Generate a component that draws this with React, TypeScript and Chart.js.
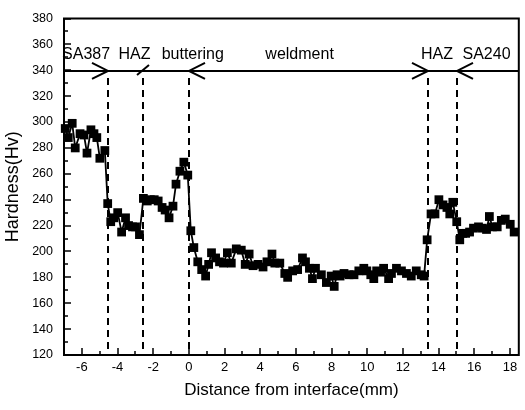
import React, { useEffect, useRef } from "react";
import { Chart, registerables } from "chart.js";

Chart.register(...registerables);

// ---- data ----
const distance = [
  -6.93, -6.76, -6.54, -6.37, -6.1, -5.88, -5.71, -5.49, -5.32, -5.16, -4.99, -4.71,
  -4.55, -4.38, -4.21, -3.99, -3.77, -3.55, -3.38, -3.16, -2.99, -2.77, -2.55, -2.33,
  -2.16, -1.94, -1.72, -1.5, -1.33, -1.11, -0.89, -0.72, -0.5, -0.28, -0.06, 0.11, 0.28,
  0.5, 0.72, 0.94, 1.11, 1.27, 1.5, 1.72, 1.94, 2.16, 2.38, 2.66, 2.94, 3.16, 3.38, 3.6,
  3.88, 4.16, 4.38, 4.66, 4.82, 5.1, 5.38, 5.54, 5.82, 6.1, 6.37, 6.54, 6.76, 6.93, 7.1,
  7.43, 7.71, 7.98, 8.15, 8.31, 8.48, 8.7, 8.98, 9.26, 9.53, 9.81, 9.98, 10.2, 10.37,
  10.53, 10.75, 10.92, 11.2, 11.36, 11.64, 11.92, 12.2, 12.47, 12.75, 13.03, 13.19,
  13.36, 13.58, 13.8, 14.02, 14.25, 14.47, 14.63, 14.8, 15.02, 15.19, 15.35, 15.52,
  15.74, 15.96, 16.24, 16.46, 16.69, 16.85, 17.02, 17.29, 17.52, 17.74, 18.02, 18.24,
];
const hardness = [
  295, 288, 299, 280, 291, 290, 276, 294, 291, 288, 272, 278,
  237, 223, 226, 230, 215, 226, 220, 219, 219, 213, 241, 239,
  240, 240, 239, 234, 232, 226, 235, 252, 262, 269, 259, 216, 203,
  192, 186, 181, 190, 199, 195, 192, 191, 199, 191, 202, 201, 190, 198, 189,
  190, 188, 192, 198, 191, 191, 183, 180, 185, 186, 195, 192, 187, 179, 187,
  182, 176, 181, 173, 182, 181, 183, 182, 182, 185, 187, 185, 182, 179,
  185, 184, 187, 179, 183, 187, 185, 183, 181, 185, 182, 181,
  209, 229, 229, 240, 236, 234, 229, 238, 223, 209, 214, 214,
  215, 218, 219, 218, 217, 227, 219, 219, 224, 225, 221, 215,
];
const xTickValues = [-6, -4, -2, 0, 2, 4, 6, 8, 10, 12, 14, 16, 18];
const yTickValues = [120, 140, 160, 180, 200, 220, 240, 260, 280, 300, 320, 340, 360, 380];
const zoneBoundaries = [-4.55, -2.57, 0, 13.4, 15.05];
const zoneLabels = ["SA387", "HAZ", "buttering", "weldment", "HAZ", "SA240"];
const zoneLabelX = [-5.76, -3.05, 0.22, 6.21, 13.91, 16.69];
const zoneLineHardness = 339.5;
const arrowDirections = ["right", "slash", "left", "right", "left"];

const FONT = '"Liberation Sans", Arial, sans-serif';

const decorPlugin = {
  id: "decor",
  beforeDatasetsDraw(chart: any) {
    const { ctx, chartArea, scales } = chart;
    const xs = scales.x;
    const ys = scales.y;
    const ly = ys.getPixelForValue(zoneLineHardness);
    ctx.save();
    ctx.strokeStyle = "#000";
    ctx.lineWidth = 2;
    ctx.setLineDash([7, 5]);
    zoneBoundaries.forEach((b) => {
      const px = Math.round(xs.getPixelForValue(b));
      ctx.beginPath();
      ctx.moveTo(px, ly + 7);
      ctx.lineTo(px, chartArea.bottom);
      ctx.stroke();
    });
    ctx.setLineDash([]);
    ctx.beginPath();
    ctx.moveTo(chartArea.left, ly);
    ctx.lineTo(chartArea.right, ly);
    ctx.stroke();
    zoneBoundaries.forEach((b, i) => {
      const px = Math.round(xs.getPixelForValue(b));
      const d = arrowDirections[i];
      ctx.beginPath();
      if (d === "right") {
        ctx.moveTo(px - 16, ly - 8);
        ctx.lineTo(px, ly);
        ctx.lineTo(px - 16, ly + 8);
      } else if (d === "left") {
        ctx.moveTo(px + 16, ly - 8);
        ctx.lineTo(px, ly);
        ctx.lineTo(px + 16, ly + 8);
      } else {
        ctx.moveTo(px - 6, ly + 4);
        ctx.lineTo(px + 6, ly - 6);
      }
      ctx.stroke();
    });
    ctx.fillStyle = "#000";
    ctx.font = "16px " + FONT;
    ctx.textAlign = "center";
    ctx.textBaseline = "alphabetic";
    zoneLabels.forEach((t, i) => {
      ctx.fillText(t, xs.getPixelForValue(zoneLabelX[i]), ly - 12);
    });
    ctx.restore();
  },
  afterDatasetsDraw(chart: any) {
    const { ctx, chartArea, scales } = chart;
    const { left, right, top, bottom } = chartArea;
    const xs = scales.x;
    const ys = scales.y;
    ctx.save();
    ctx.strokeStyle = "#000";
    ctx.lineWidth = 2;
    ctx.strokeRect(left, top, right - left, bottom - top);
    ctx.lineWidth = 1.5;
    for (let v = ys.min; v <= ys.max; v += 10) {
      const py = Math.round(ys.getPixelForValue(v));
      const len = v % 20 === 0 ? 7 : 4;
      ctx.beginPath();
      ctx.moveTo(left, py);
      ctx.lineTo(left + len, py);
      ctx.stroke();
    }
    for (let v = Math.ceil(xs.min); v <= xs.max; v += 1) {
      const px = Math.round(xs.getPixelForValue(v));
      const len = v % 2 === 0 ? 7 : 4;
      ctx.beginPath();
      ctx.moveTo(px, bottom);
      ctx.lineTo(px, bottom - len);
      ctx.stroke();
    }
    ctx.restore();
  },
};

export default function App() {
  const canvasRef = useRef<HTMLCanvasElement | null>(null);

  useEffect(() => {
    if (!canvasRef.current) return;
    Chart.defaults.font.family = FONT;
    Chart.defaults.color = "#000";
    const chart = new Chart(canvasRef.current, {
      type: "line",
      data: {
        datasets: [
          {
            data: distance.map((d, i) => ({ x: d, y: hardness[i] })),
            borderColor: "#000",
            backgroundColor: "#000",
            borderWidth: 1.8,
            pointStyle: "rect",
            pointRadius: 6.2,
            pointBorderWidth: 0,
            pointBackgroundColor: "#000",
            tension: 0,
            clip: false as any,
          },
        ],
      },
      options: {
        responsive: false,
        animation: false,
        devicePixelRatio: 1,
        layout: { padding: { top: 14, right: 0, bottom: 0, left: 0 } },
        plugins: { legend: { display: false }, tooltip: { enabled: false } },
        scales: {
          x: {
            type: "linear",
            min: -7,
            max: 18.5,
            afterBuildTicks: (s: any) => {
              s.ticks = xTickValues.map((v) => ({ value: v }));
            },
            afterFit: (s: any) => {
              s.height = 55;
            },
            grid: { display: false, drawTicks: false },
            border: { display: false },
            ticks: { padding: 5, maxRotation: 0, autoSkip: false, font: { size: 13 }, color: "#000" },
            title: {
              display: true,
              text: "Distance from interface(mm)",
              font: { size: 17 },
              color: "#000",
              padding: { top: 0, bottom: 9 },
            },
          },
          y: {
            type: "linear",
            min: 120,
            max: 380,
            afterBuildTicks: (s: any) => {
              s.ticks = yTickValues.map((v) => ({ value: v }));
            },
            afterFit: (s: any) => {
              s.width = 64;
            },
            grid: { display: false, drawTicks: false },
            border: { display: false },
            ticks: { padding: 11, autoSkip: false, font: { size: 12.5 }, color: "#000" },
            title: {
              display: true,
              text: "Hardness(Hv)",
              font: { size: 18 },
              color: "#000",
              padding: { top: 2, bottom: 0 },
            },
          },
        },
      },
      plugins: [decorPlugin],
    } as any);
    return () => chart.destroy();
  }, []);

  return (
    <div style={{ position: "fixed", left: 0, top: 0, width: 525, height: 410, background: "#fff" }}>
      <canvas ref={canvasRef} width={525} height={410} style={{ display: "block" }} />
    </div>
  );
}
